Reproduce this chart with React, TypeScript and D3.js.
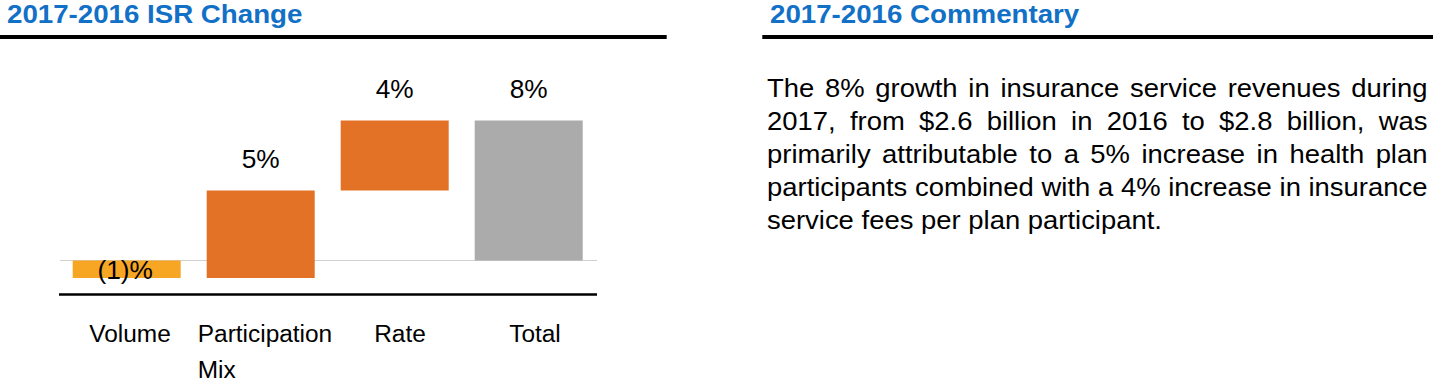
import React from "react";
import * as d3 from "d3";

const categories = ["Volume", "Participation Mix", "Rate", "Total"];
const categoryLines = [["Volume"], ["Participation", "Mix"], ["Rate"], ["Total"]];
const changes = [-1, 5, 4, 8];
const isTotal = [false, false, false, true];
const valueLabels = ["(1)%", "5%", "4%", "8%"];
const barColors = ["#F6A623", "#E37226", "#E37226", "#ABABAB"];

const leftTitle = "2017-2016 ISR Change";
const rightTitle = "2017-2016 Commentary";
const commentaryLines = [
  "The 8% growth in insurance service revenues during",
  "2017, from $2.6 billion in 2016 to $2.8 billion, was",
  "primarily attributable to a 5% increase in health plan",
  "participants combined with a 4% increase in insurance",
  "service fees per plan participant.",
];

const FONT = "'Liberation Sans', Arial, sans-serif";

let canvasCtx: CanvasRenderingContext2D | null = null;
function measure(text: string, size: number, weight = "normal") {
  if (!canvasCtx) {
    const c = document.createElement("canvas");
    canvasCtx = c.getContext("2d");
  }
  if (!canvasCtx) return text.length * size * 0.5;
  canvasCtx.font = `${weight} ${size}px ${FONT}`;
  return canvasCtx.measureText(text).width;
}

export default function App() {
  const W = 1433;
  const H = 382;

  // waterfall computation
  const bars: { start: number; end: number }[] = [];
  let run = 0;
  changes.forEach((v, i) => {
    if (isTotal[i]) {
      bars.push({ start: 0, end: v });
    } else {
      bars.push({ start: run, end: run + v });
      run += v;
    }
  });

  const x = d3
    .scaleBand<string>()
    .domain(categories)
    .range([59.7, 595.7])
    .paddingInner(0.194)
    .paddingOuter(0.097);
  const xLabel = d3
    .scaleBand<string>()
    .domain(categories)
    .range([62.5, 602.5])
    .padding(0);
  const y = d3.scaleLinear().domain([-2, 10]).range([295.5, 85.5]);

  const valSize = 25;
  const valSx = 1.05;
  const catSize = 23.5;
  const catSx = 1.04;
  const titleSize = 26;
  const titleSx = 1.065;
  const comSize = 25.5;
  const comSx = 1.076;

  const comLeft = 767;
  const comRight = 1427.5;
  const comTop = 96.7;
  const comPitch = 33;

  return (
    <svg width={W} height={H} style={{ position: "absolute", left: 0, top: 0 }}>
      <rect x={0} y={0} width={W} height={H} fill="#ffffff" />
      {/* titles */}
      <text
        transform={`translate(7,22.7) scale(${titleSx},1)`}
        fontFamily={FONT}
        fontWeight="bold"
        fontSize={titleSize}
        fill="#1270C6"
      >
        {leftTitle}
      </text>
      <rect x={0} y={35} width={666.7} height={4} fill="#000" />
      <text
        transform={`translate(770,22.7) scale(${titleSx},1)`}
        fontFamily={FONT}
        fontWeight="bold"
        fontSize={titleSize}
        fill="#1270C6"
      >
        {rightTitle}
      </text>
      <rect x={762.3} y={35} width={W - 762.3} height={4} fill="#000" />

      {/* zero line */}
      <line x1={60} x2={597} y1={y(0)} y2={y(0)} stroke="#D0D0D0" strokeWidth={1} />

      {/* bars */}
      {categories.map((c, i) => {
        const b = bars[i];
        const top = y(Math.max(b.start, b.end));
        const bot = y(Math.min(b.start, b.end));
        return (
          <rect
            key={c}
            x={x(c)}
            y={top}
            width={x.bandwidth()}
            height={bot - top}
            fill={barColors[i]}
          />
        );
      })}

      {/* value labels */}
      {categories.map((c, i) => {
        const b = bars[i];
        const cx = (x(c) as number) + x.bandwidth() / 2;
        const neg = changes[i] < 0;
        const ty = neg ? y(b.end) + 1 : y(Math.max(b.start, b.end)) - 22.5;
        return (
          <text
            key={c}
            transform={`translate(${cx - (neg ? 1.5 : 0)},${ty}) scale(${valSx},1)`}
            textAnchor="middle"
            fontFamily={FONT}
            fontSize={valSize}
            fill="#000"
          >
            {valueLabels[i]}
          </text>
        );
      })}

      {/* axis line */}
      <line x1={59} x2={597} y1={y(-2) - 1} y2={y(-2) - 1} stroke="#000" strokeWidth={2.5} />

      {/* category labels */}
      {categories.map((c, i) => {
        const cx = (xLabel(c) as number) + xLabel.bandwidth() / 2;
        const lines = categoryLines[i];
        const maxW = Math.max(...lines.map((l) => measure(l, catSize))) * catSx;
        const left = cx - maxW / 2;
        return (
          <g key={c}>
            {lines.map((l, j) => (
              <text
                key={j}
                transform={`translate(${left},${341.7 + j * 36.6}) scale(${catSx},1)`}
                fontFamily={FONT}
                fontSize={catSize}
                fill="#000"
              >
                {l}
              </text>
            ))}
          </g>
        );
      })}

      {/* commentary, justified */}
      {commentaryLines.map((line, li) => {
        const words = line.split(" ");
        const widths = words.map((w) => measure(w, comSize) * comSx);
        const last = li === commentaryLines.length - 1;
        const total = d3.sum(widths);
        const gap = last
          ? measure(" ", comSize) * comSx
          : (comRight - comLeft - total) / (words.length - 1);
        let cx = comLeft;
        const yy = comTop + li * comPitch;
        return (
          <g key={li}>
            {words.map((w, wi) => {
              const px = cx;
              cx += widths[wi] + gap;
              return (
                <text
                  key={wi}
                  transform={`translate(${px},${yy}) scale(${comSx},1)`}
                  fontFamily={FONT}
                  fontSize={comSize}
                  fill="#000"
                >
                  {w}
                </text>
              );
            })}
          </g>
        );
      })}
    </svg>
  );
}
